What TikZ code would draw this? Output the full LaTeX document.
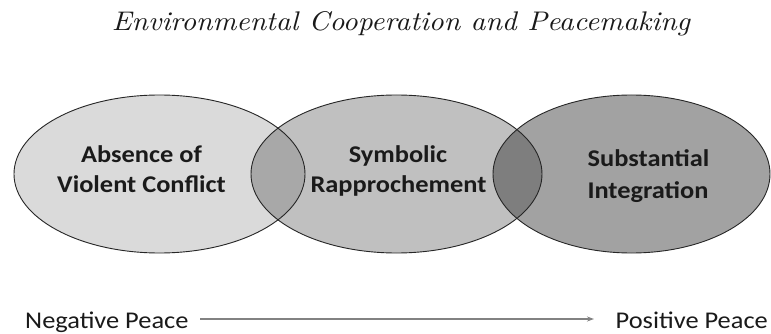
\documentclass[tikz,border=0pt]{standalone}
\usepackage{fontspec}
\newfontfamily\calib{Carlito}
\usetikzlibrary{arrows.meta}
\definecolor{fillA}{RGB}{218,218,218}
\definecolor{fillB}{RGB}{192,192,192}
\definecolor{fillC}{RGB}{162,162,162}
\definecolor{lensAB}{RGB}{168,168,168}
\definecolor{lensBC}{RGB}{126,126,126}
\definecolor{txt}{RGB}{26,26,26}
\definecolor{arrowgray}{RGB}{130,130,130}
\tikzset{
  lbl/.style={font=\calib\fontsize{24}{28}\selectfont\bfseries, text=txt, inner sep=0pt, anchor=base, xscale=1.1},
  peace/.style={font=\calib\fontsize{24}{28}\selectfont, text=txt, inner sep=0pt, anchor=base, xscale=1.1},
  outline/.style={draw=black!85, line width=0.9pt},
}
\begin{document}
\begin{tikzpicture}[x=1pt,y=-1pt]
\useasboundingbox[fill=white] (0,0) rectangle (771,334);
% centres
\coordinate (c1) at (159.5,174);
\coordinate (c2) at (396.5,174);
\coordinate (c3) at (631.5,174);
% fills
\fill[fillA] (c1) ellipse [x radius=145.5, y radius=79];
\fill[fillB] (c2) ellipse [x radius=145.5, y radius=79];
\fill[fillC] (c3) ellipse [x radius=138.5, y radius=79];
\begin{scope}
  \clip (c1) ellipse [x radius=145.5, y radius=79];
  \fill[lensAB] (c2) ellipse [x radius=145.5, y radius=79];
\end{scope}
\begin{scope}
  \clip (c2) ellipse [x radius=145.5, y radius=79];
  \fill[lensBC] (c3) ellipse [x radius=138.5, y radius=79];
\end{scope}
% outlines
\draw[outline] (c1) ellipse [x radius=145.5, y radius=79];
\draw[outline] (c2) ellipse [x radius=145.5, y radius=79];
\draw[outline] (c3) ellipse [x radius=138.5, y radius=79];
% title
\node[inner sep=0pt, anchor=base, text=txt] (title) at (401,31)
  {\resizebox{578pt}{19pt}{\itshape Environmental Cooperation and Peacemaking}};
% labels
\node[lbl] (a1) at (141.5,162) {Absence of};
\node[lbl] (a2) at (141.5,193) {Violent Conflict};
\node[lbl] (b1) at (398,162) {Symbolic};
\node[lbl] (b2) at (398.5,193) {Rapprochement};
\node[lbl] (s1) at (648.5,166) {Substantial};
\node[lbl] (s2) at (648,198) {Integration};
% bottom axis
\node[peace, anchor=base west] (neg) at (25,328) {Negative Peace};
\node[peace, anchor=base east] (pos) at (768,328) {Positive Peace};
\coordinate (as) at (200,319);
\coordinate (ae) at (594,319);
\draw[arrowgray, line width=1.3pt, -{Stealth[length=7pt,width=5pt]}] (as) -- (ae);
\end{tikzpicture}
\end{document}
